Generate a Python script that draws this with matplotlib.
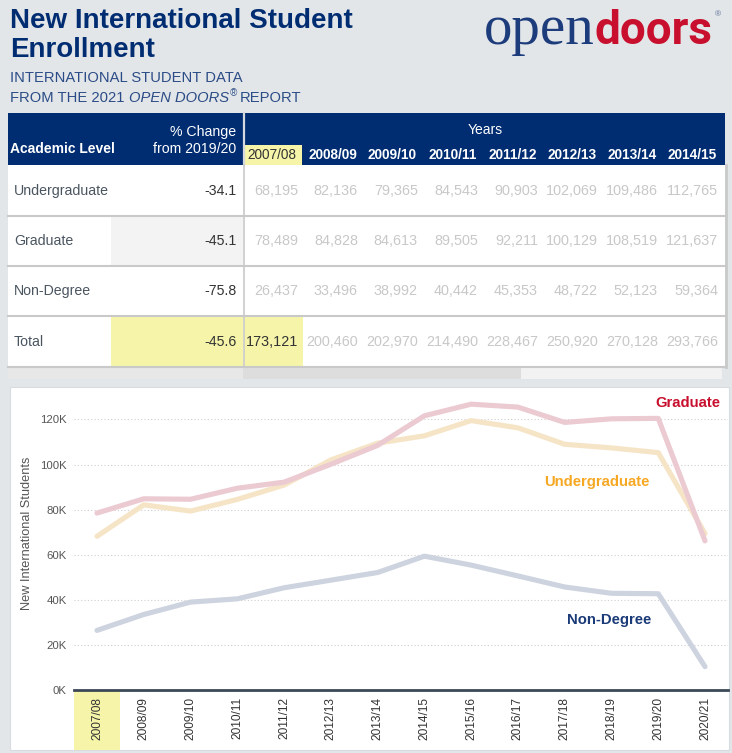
import numpy as np
import matplotlib.pyplot as plt
from matplotlib.patches import Rectangle
from matplotlib.transforms import blended_transform_factory
from matplotlib.ticker import FuncFormatter

plt.rcParams['font.family'] = ['Liberation Sans', 'DejaVu Sans']

W, H = 732, 753

# data
years = ['2007/08', '2008/09', '2009/10', '2010/11', '2011/12', '2012/13', '2013/14',
         '2014/15', '2015/16', '2016/17', '2017/18', '2018/19', '2019/20', '2020/21']
undergraduate = [68195, 82136, 79365, 84543, 90903, 102069, 109486,
                 112765, 119500, 116300, 109000, 107400, 105300, 69400]
graduate = [78489, 84828, 84613, 89505, 92211, 100129, 108519,
            121637, 126800, 125500, 118700, 120300, 120500, 66150]
non_degree = [26437, 33496, 38992, 40442, 45353, 48722, 52123,
              59364, 55400, 50600, 45700, 42900, 42700, 10350]
levels = ['Undergraduate', 'Graduate', 'Non-Degree', 'Total']
pct_change = [-34.1, -45.1, -75.8, -45.6]
table_years = 8  # columns visible in the scrolled table

total = [u + g + n for u, g, n in zip(undergraduate, graduate, non_degree)]

NAVY = '#002d72'
CRIMSON = '#c8102e'
YELLOW = '#f5f4a9'
GRID = '#c9c9c9'
BG = '#e3e6e9'

fig = plt.figure(figsize=(W / 100, H / 100), dpi=100)
fig.patch.set_facecolor(BG)

# full-figure canvas in pixel units for the header and table
bg = fig.add_axes([0, 0, 1, 1])
bg.set_xlim(0, W)
bg.set_ylim(H, 0)
bg.axis('off')
renderer = fig.canvas.get_renderer()


def put(x, y, s, **kw):
    t = bg.text(x, y, s, va='baseline', **kw)
    return x + t.get_window_extent(renderer).width


# ---- title block
bg.text(10, 28, 'New International Student', fontsize=20, weight='bold', color=NAVY, va='baseline')
bg.text(10, 57, 'Enrollment', fontsize=20, weight='bold', color=NAVY, va='baseline')
SUB = '#2b4c86'
bg.text(10, 81.5, 'INTERNATIONAL STUDENT DATA', fontsize=10.6, color=SUB, va='baseline')
x = put(10, 101.5, 'FROM THE 2021 ', fontsize=10.6, color=SUB)
x = put(x, 101.5, 'OPEN DOORS', fontsize=10.6, color=SUB, style='italic')
x = put(x + 1, 96, '®', fontsize=7, color=SUB, style='italic')
put(x + 3, 101.5, 'REPORT', fontsize=10.6, color=SUB)

# ---- logo
x = put(484, 44, 'open', fontsize=41, color='#1d3c7c', family='Liberation Serif')
x = put(x, 44, 'doors', fontsize=33, weight='bold', color=CRIMSON, family='Roboto')
bg.text(x + 2, 16, '®', fontsize=6, color='#5a6f96', va='baseline')

# ---- table
TX0, TX1, SPLIT = 8, 725, 243
row_y = [165, 216, 266, 316, 367]
col_right = [298 + 60 * k for k in range(table_years)]

bg.add_patch(Rectangle((TX0, 113), TX1 - TX0, 52, color=NAVY, lw=0))
bg.add_patch(Rectangle((TX0, 165), TX1 - TX0, 202, color='white', lw=0))
bg.add_patch(Rectangle((111, 216), SPLIT - 111, 50, color='#f3f3f3', lw=0))
bg.add_patch(Rectangle((111, 316), SPLIT - 111, 51, color=YELLOW, lw=0))
bg.add_patch(Rectangle((SPLIT + 1, 316), 59, 51, color=YELLOW, lw=0))
bg.add_patch(Rectangle((245, 145), 57, 20, color=YELLOW, lw=0))
bg.plot([SPLIT + 1, SPLIT + 1], [113, 165], color='#d5d9de', lw=1.6)
bg.plot([SPLIT + 0.5, SPLIT + 0.5], [165, 367], color=GRID, lw=1.2)
bg.plot([TX1 + 1, TX1 + 1], [165, 367], color=GRID, lw=2)
for yy in row_y[1:]:
    bg.plot([TX0, TX1], [yy, yy], color=GRID, lw=1.5)

# scroll bar strip
bg.add_patch(Rectangle((TX0, 368), SPLIT - TX0, 11, color='#e7e7e7', lw=0))
bg.add_patch(Rectangle((SPLIT, 368), 278, 11, color='#dddddd', lw=0))
bg.add_patch(Rectangle((521, 368), 201, 11, color='#f2f2f2', lw=0))

# header text
bg.text(10, 153, 'Academic Level', fontsize=10, weight='bold', color='white', va='baseline')
bg.text(236, 136, '% Change', fontsize=10.2, color='white', ha='right', va='baseline')
bg.text(236, 153, 'from 2019/20', fontsize=10.2, color='white', ha='right', va='baseline')
bg.text(485, 134, 'Years', fontsize=10, color='white', ha='center', va='baseline')
for k in range(table_years):
    if k == 0:
        bg.text(247, 159, years[k], fontsize=9.8, color='#333333', va='baseline')
    else:
        bg.text(col_right[k] - 1, 159, years[k], fontsize=9.8, weight='bold',
                color='white', ha='right', va='baseline')

# body text
rows = [undergraduate, graduate, non_degree, total]
for r, (lab, pc, vals) in enumerate(zip(levels, pct_change, rows)):
    yc = (row_y[r] + row_y[r + 1]) / 2
    bg.text(14, yc, lab, fontsize=10.2, color='#4a5560', va='center')
    bg.text(237, yc, f'{pc:.1f}', fontsize=10.2, color='#333333', ha='right', va='center')
    for k in range(table_years):
        dark = (r == 3 and k == 0)
        bg.text(col_right[k], yc, f'{vals[k]:,}', fontsize=10.4,
                color='#333333' if dark else '#c8c8c8', ha='right', va='center')

# ---- chart panel
bg.add_patch(Rectangle((10, 387), 719, 363, facecolor='white', edgecolor='#d8dbdf', lw=0.8))

ax = fig.add_axes([73.6 / W, 1 - 690 / H, (728.4 - 73.6) / W, 295 / H])
ax.set_facecolor('none')
xi = np.arange(len(years))
ax.plot(xi, undergraduate, color='#f6e4c6', lw=3.7, solid_capstyle='round', solid_joinstyle='round')
ax.plot(xi, graduate, color='#ebcad2', lw=3.7, solid_capstyle='round', solid_joinstyle='round')
ax.plot(xi, non_degree, color='#cdd3df', lw=3.7, solid_capstyle='round', solid_joinstyle='round')

ax.text(12.63, 127300, 'Graduate', color=CRIMSON, weight='bold', fontsize=10.7, ha='center', va='center')
ax.text(10.69, 92300, 'Undergraduate', color='#f7a823', weight='bold', fontsize=10.7, ha='center', va='center')
ax.text(10.96, 31100, 'Non-Degree', color='#1b3a78', weight='bold', fontsize=10.7, ha='center', va='center')

ax.set_xlim(-0.5, len(years) - 0.5)
ax.set_ylim(0, 295 / 2.2542 * 1000)
ax.set_yticks(np.arange(0, 120001, 20000))
ax.yaxis.set_major_formatter(FuncFormatter(lambda v, p: f'{v / 1000:.0f}K'))
ax.grid(axis='y', color='#cfcfcf', lw=0.8, ls=(0, (1, 2)))
ax.set_axisbelow(True)
ax.set_xticks(xi)
ax.set_xticklabels(years, rotation=90, fontsize=8.6, color='#333333')
ax.tick_params(axis='x', length=0, pad=5)
ax.tick_params(axis='y', length=0, pad=5, labelsize=8.2, labelcolor='#555555')
for s in ['top', 'right', 'left']:
    ax.spines[s].set_visible(False)
ax.spines['bottom'].set_color('#3b4858')
ax.spines['bottom'].set_linewidth(2)

# highlight of first year under the axis
tr = blended_transform_factory(ax.transData, ax.transAxes)
ax.add_patch(Rectangle((-0.5, -60 / 295), 1, 60 / 295, transform=tr, color=YELLOW,
                       clip_on=False, zorder=0, lw=0))

fig.text(27 / W, 1 - 533 / H, 'New International Students', rotation=90, fontsize=9.2,
         color='#555555', ha='center', va='center')

fig.savefig('out.png', dpi=100, facecolor=fig.get_facecolor())
